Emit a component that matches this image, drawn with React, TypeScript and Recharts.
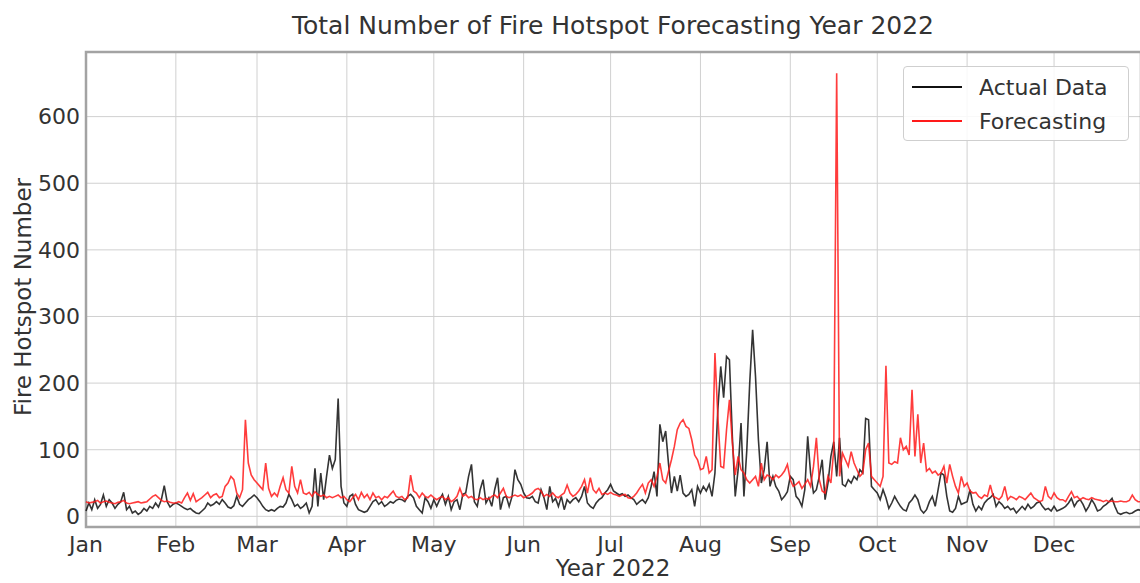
import React from 'react';
import { LineChart, Line, XAxis, YAxis, CartesianGrid, ReferenceArea } from 'recharts';

const months = ['Jan', 'Feb', 'Mar', 'Apr', 'May', 'Jun', 'Jul', 'Aug', 'Sep', 'Oct', 'Nov', 'Dec'];
const yTicks = [0, 100, 200, 300, 400, 500, 600];

// daily hotspot counts
const actualJan = [8, 20, 10, 25, 12, 18, 32, 15, 25, 20, 12, 18, 22, 36, 10, 15, 5, 8, 3, 6, 12, 8, 15, 12, 20, 14, 25, 46, 22, 14, 18];
const actualFeb = [20, 18, 15, 12, 10, 12, 8, 5, 4, 8, 12, 20, 16, 18, 22, 18, 25, 20, 14, 12, 16, 30, 18, 15, 20, 25, 28, 32];
const actualMar = [28, 22, 15, 10, 8, 10, 8, 12, 15, 14, 20, 33, 25, 15, 18, 12, 15, 20, 5, 15, 72, 15, 65, 25, 60, 92, 72, 85, 177, 45, 20];
const actualApr = [15, 30, 33, 18, 10, 8, 6, 8, 15, 22, 25, 18, 22, 15, 18, 22, 20, 24, 26, 25, 22, 30, 33, 28, 15, 10, 5, 28, 22, 12];
const actualMay = [25, 15, 25, 33, 18, 30, 10, 22, 25, 10, 33, 35, 60, 78, 22, 15, 40, 55, 20, 28, 15, 40, 58, 10, 28, 30, 15, 30, 70, 55, 48];
const actualJun = [35, 28, 27, 30, 22, 20, 40, 28, 10, 45, 22, 27, 15, 30, 10, 25, 20, 25, 28, 22, 30, 45, 20, 15, 12, 20, 25, 28, 35, 40];
const actualJul = [48, 38, 35, 32, 34, 30, 32, 28, 25, 18, 22, 25, 20, 28, 45, 67, 30, 138, 112, 128, 78, 35, 60, 38, 62, 35, 30, 33, 40, 15, 45];
const actualAug = [35, 45, 38, 48, 30, 65, 160, 225, 178, 240, 235, 120, 30, 70, 140, 30, 100, 200, 280, 210, 115, 50, 70, 112, 45, 60, 45, 38, 25, 30, 37];
const actualSep = [60, 55, 30, 25, 15, 40, 120, 65, 35, 40, 60, 85, 25, 50, 90, 112, 60, 118, 48, 45, 55, 50, 60, 55, 70, 65, 147, 145, 45, 40];
const actualOct = [35, 25, 40, 28, 12, 20, 30, 22, 15, 10, 8, 20, 25, 32, 25, 10, 5, 10, 22, 30, 15, 40, 65, 62, 30, 8, 6, 12, 30, 18, 20];
const actualNov = [22, 40, 18, 8, 15, 10, 20, 25, 28, 33, 15, 22, 18, 12, 15, 10, 12, 5, 10, 15, 10, 18, 12, 15, 20, 22, 15, 10, 12, 8];
const actualDec = [15, 8, 10, 12, 15, 20, 27, 15, 22, 25, 18, 8, 15, 25, 18, 8, 10, 15, 18, 22, 27, 15, 5, 3, 5, 6, 4, 5, 8, 10, 9];

const forecastJan = [22, 20, 21, 22, 24, 20, 22, 23, 21, 20, 19, 21, 22, 24, 20, 19, 20, 21, 22, 20, 21, 22, 26, 30, 32, 28, 24, 22, 23, 21, 20];
const forecastFeb = [20, 22, 20, 28, 35, 24, 34, 22, 25, 28, 32, 36, 28, 32, 34, 28, 30, 45, 50, 60, 55, 35, 28, 40, 145, 80, 62, 55];
const forecastMar = [50, 45, 40, 80, 42, 30, 35, 30, 45, 58, 40, 35, 75, 45, 35, 55, 35, 33, 36, 30, 37, 33, 30, 32, 28, 30, 28, 30, 32, 28, 30];
const forecastApr = [25, 22, 28, 33, 25, 36, 28, 33, 25, 35, 28, 30, 25, 30, 28, 33, 38, 30, 28, 30, 25, 28, 62, 38, 35, 28, 35, 30, 28, 32];
const forecastMay = [28, 25, 28, 30, 25, 28, 22, 25, 30, 42, 30, 33, 28, 30, 26, 25, 28, 25, 27, 26, 30, 32, 28, 35, 42, 30, 28, 30, 32, 30, 32];
const forecastJun = [28, 30, 32, 35, 40, 42, 38, 30, 33, 30, 35, 30, 28, 32, 35, 47, 35, 30, 33, 38, 45, 55, 35, 58, 40, 35, 42, 33, 35, 33];
const forecastJul = [36, 33, 32, 30, 32, 33, 28, 27, 30, 35, 42, 48, 35, 50, 55, 45, 60, 80, 55, 50, 68, 85, 105, 130, 140, 145, 135, 132, 115, 92, 85];
const forecastAug = [70, 72, 90, 65, 70, 245, 150, 75, 73, 130, 175, 110, 62, 90, 70, 65, 55, 50, 55, 60, 45, 80, 55, 62, 60, 55, 62, 58, 62, 68, 78];
const forecastSep = [55, 45, 48, 52, 42, 48, 55, 45, 75, 118, 55, 38, 35, 60, 50, 100, 665, 60, 95, 85, 75, 97, 80, 70, 60, 65, 100, 110, 60, 55];
const forecastOct = [50, 45, 60, 226, 80, 78, 82, 80, 118, 100, 105, 92, 190, 90, 153, 80, 110, 68, 72, 65, 68, 62, 65, 75, 50, 78, 60, 45, 35, 60, 45];
const forecastNov = [50, 38, 35, 36, 30, 27, 32, 30, 47, 30, 28, 25, 30, 45, 25, 30, 28, 25, 30, 28, 25, 30, 35, 28, 25, 22, 24, 45, 30, 26];
const forecastDec = [35, 28, 25, 25, 22, 30, 37, 28, 30, 25, 28, 26, 25, 28, 26, 25, 24, 22, 24, 22, 23, 22, 22, 23, 22, 22, 24, 32, 25, 22, 22];

const actualByMonth = [actualJan, actualFeb, actualMar, actualApr, actualMay, actualJun, actualJul, actualAug, actualSep, actualOct, actualNov, actualDec];
const forecastByMonth = [forecastJan, forecastFeb, forecastMar, forecastApr, forecastMay, forecastJun, forecastJul, forecastAug, forecastSep, forecastOct, forecastNov, forecastDec];

const monthStarts: number[] = [];
const data: { day: number; actual: number; forecast: number }[] = [];
let dayIdx = 0;
actualByMonth.forEach((arr, m) => {
  monthStarts.push(dayIdx);
  arr.forEach((v, i) => {
    data.push({ day: dayIdx, actual: v, forecast: forecastByMonth[m][i] });
    dayIdx++;
  });
});
const lastDay = dayIdx - 1;

const font = "'DejaVu Sans', sans-serif";
const textColor = '#333';

const App = () => {
  return (
    <div style={{ position: 'fixed', left: 0, top: 0, width: 1140, height: 583, overflow: 'hidden', background: '#fff', fontFamily: font }}>
      <div style={{ position: 'absolute', left: 0, width: 1226, top: 11, textAlign: 'center', fontSize: 25, lineHeight: '30px', color: textColor }}>
        Total Number of Fire Hotspot Forecasting Year 2022
      </div>
      <div
        style={{
          position: 'absolute', left: 23, top: 297, fontSize: 23, color: textColor, whiteSpace: 'nowrap',
          transform: 'translate(-50%, -50%) rotate(-90deg)',
        }}
      >
        Fire Hotspot Number
      </div>
      <div style={{ position: 'absolute', left: 0, width: 1226, top: 555, textAlign: 'center', fontSize: 23, lineHeight: '27px', color: textColor }}>
        Year 2022
      </div>

      <LineChart width={1150} height={583} data={data} margin={{ top: 52, right: 9, bottom: 0, left: 0 }} style={{ position: 'absolute', left: 0, top: 0 }}>
        <CartesianGrid stroke="#d0d0d0" strokeWidth={1} />
        <XAxis
          dataKey="day"
          type="number"
          domain={[0, lastDay]}
          ticks={monthStarts}
          tickFormatter={(d: number) => months[monthStarts.indexOf(d)]}
          axisLine={false}
          tickLine={false}
          tickSize={0}
          tickMargin={9}
          height={56}
          interval={0}
          tick={{ fill: textColor, fontSize: 22, fontFamily: font }}
        />
        <YAxis
          type="number"
          domain={[-16, 697]}
          ticks={yTicks}
          allowDataOverflow
          axisLine={false}
          tickLine={false}
          tickSize={0}
          tickMargin={6}
          width={86}
          interval={0}
          tick={{ fill: textColor, fontSize: 22, fontFamily: font }}
        />
        <ReferenceArea x1={0} x2={lastDay} y1={-16} y2={697} fill="none" stroke="#a3a3a3" strokeWidth={2.5} />
        <Line type="linear" dataKey="actual" name="Actual Data" stroke="#111" strokeOpacity={0.85} strokeWidth={1.6} dot={false} isAnimationActive={false} />
        <Line type="linear" dataKey="forecast" name="Forecasting" stroke="#ff1a1a" strokeOpacity={0.85} strokeWidth={1.6} dot={false} isAnimationActive={false} />
      </LineChart>

      <div
        style={{
          position: 'absolute', left: 903, top: 66, width: 224, height: 73, border: '1px solid #cfcfcf', borderRadius: 4,
          background: 'rgba(255,255,255,0.85)', fontSize: 22, color: textColor,
        }}
      >
        {[{ label: 'Actual Data', color: '#111' }, { label: 'Forecasting', color: '#ff1a1a' }].map((it, i) => (
          <div key={it.label} style={{ position: 'absolute', left: 8, top: 7 + i * 34, height: 26, display: 'flex', alignItems: 'center' }}>
            <span style={{ display: 'inline-block', width: 50, height: 0, borderTop: `2px solid ${it.color}`, marginRight: 17 }} />
            <span>{it.label}</span>
          </div>
        ))}
      </div>
    </div>
  );
};

export default App;
